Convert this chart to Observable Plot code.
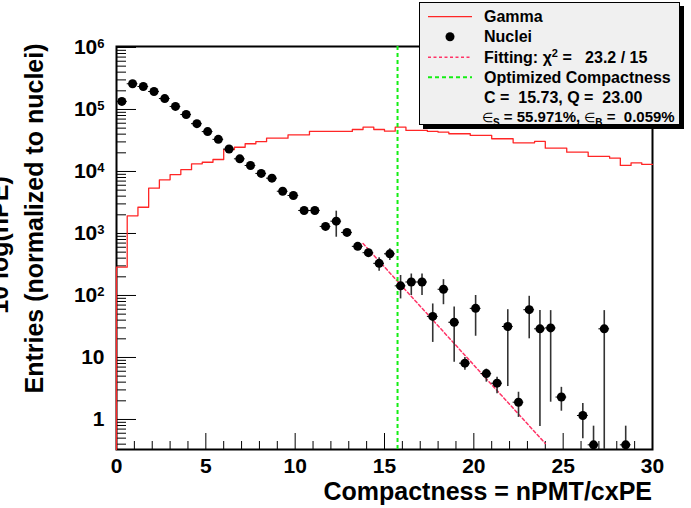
<!DOCTYPE html>
<html>
<head>
<meta charset="utf-8">
<script src="https://cdn.jsdelivr.net/npm/d3@7"></script>
<script src="https://cdn.jsdelivr.net/npm/@observablehq/plot@0.6"></script>
<style>
  body { margin: 0; background: #fff; }
  #wrap { position: relative; width: 691px; height: 508px; overflow: hidden; }
  #legend { position: absolute; left: 0; top: 0; pointer-events: none; }
  svg text { font-family: "Liberation Sans", Arial, Helvetica, sans-serif; font-weight: bold; }
</style>
</head>
<body>
<div id="wrap"></div>
<script>
// Histogram bins: 50 bins of width 0.6 over compactness 0..30
const binWidth = 0.6;
const binCenters = [0.3, 0.9, 1.5, 2.1, 2.7, 3.3, 3.9, 4.5, 5.1, 5.7,
  6.3, 6.9, 7.5, 8.1, 8.7, 9.3, 9.9, 10.5, 11.1, 11.7,
  12.3, 12.9, 13.5, 14.1, 14.7, 15.3, 15.9, 16.5, 17.1, 17.7,
  18.3, 18.9, 19.5, 20.1, 20.7, 21.3, 21.9, 22.5, 23.1, 23.7,
  24.3, 24.9, 25.5, 26.1, 26.7, 27.3, 27.9, 28.5, 29.1, 29.7];

// Gamma entries per bin (normalized to nuclei)
const gammaEntries = [286, 1930, 2650, 5370, 7340, 8920, 10700, 13300, 14100, 15600,
  22600, 24600, 28000, 30300, 34400, 34400, 39000, 39000, 44200, 44200,
  44200, 44200, 47500, 51800, 47500, 44700, 51800, 45900, 45900, 44200,
  43000, 40600, 40600, 38100, 38100, 33700, 33700, 29000, 29000, 30500,
  23800, 23800, 20500, 20500, 17500, 17500, 16400, 12500, 13800, 13000];

// Nuclei entries per bin (null = empty bin)
const nucleiEntries = [1.35e5, 2.6e5, 2.35e5, 1.95e5, 1.5e5, 1.12e5, 8.3e4, 5.9e4, 4.4e4, 3.3e4,
  2.3e4, 1.6e4, 1.25e4, 9300, 7800, 4800, 4100, 2350, 2350, 1300,
  1580, 1040, 620, 490, 330, 470, 143, 165, 165, 46,
  126, 37, 8.1, 62, 5.5, 3.85, 31.6, 1.9, 59, 29,
  30, 2.3, null, 1.16, 0.39, 29, null, 0.39, null, null];

// Error bar ends (upper / lower); 0 = reaches the bottom of the axis, null = too small to show
const nucleiErrHigh = [null, null, null, null, null, null, null, null, null, null,
  null, null, null, null, null, null, null, null, null, null,
  2290, null, null, null, 405, 565, 210, 222, 222, 73,
  180, 65, 10, 100, 6.5, 4.8, 59, 2.75, 97, 57,
  57, 3.3, null, 1.81, 0.78, 57, null, 0.78, null, null];
const nucleiErrLow = [null, null, null, null, null, null, null, null, null, null,
  null, null, null, null, null, null, null, null, null, null,
  870, null, null, null, 246, 366, 88, 100, 100, 17.5,
  71, 8.4, 6.2, 22, 4.0, 2.6, 3.4, 1.08, 20, 0.77,
  1.9, 1.36, null, 0.49, 0, 0, null, 0, null, null];

// Exponential fit over the tail (end points of the fitted curve)
const fitX = [13.8, 24.0];
const fitY = [690, 0.41];

// Optimized compactness cut
const cutC = 15.73;

// Axis ticks and labels
const xMajor = [0, 5, 10, 15, 20, 25, 30];
const xMinor = d3.range(1, 30).filter(v => v % 5 !== 0);
const yMajor = [1, 10, 100, 1e3, 1e4, 1e5, 1e6];
const yTickLabels = ["1", "10", "10^2", "10^3", "10^4", "10^5", "10^6"];
const yMinor = [0.1, 1, 10, 100, 1e3, 1e4, 1e5]
  .flatMap(dec => [2, 3, 4, 5, 6, 7, 8, 9].map(k => k * dec))
  .filter(v => v > 0.33 && v < 1e6);

const yDomain = [0.328, 1.037e6];

const W = 691, H = 508;
const mL = 116, mR = 39, mT = 46, mB = 59;
const plotW = W - mL - mR, plotH = H - mT - mB;

// Derived mark tables
const gammaPath = [{x: 0, y: yDomain[0]}]
  .concat(binCenters.map((c, i) => ({x: c - binWidth / 2, y: gammaEntries[i]})))
  .concat([{x: 30, y: gammaEntries[gammaEntries.length - 1]}]);

const nuclei = binCenters
  .map((c, i) => ({x: c, y: nucleiEntries[i], hi: nucleiErrHigh[i], lo: nucleiErrLow[i]}))
  .filter(d => d.y != null);
const errBars = nuclei.filter(d => d.hi != null)
  .map(d => ({x: d.x, hi: d.hi, lo: d.lo === 0 ? yDomain[0] : d.lo}));
const fit = fitX.map((x, i) => ({x, y: fitY[i]}));

const chart = Plot.plot({
  width: W, height: H,
  marginLeft: mL, marginRight: mR, marginTop: mT, marginBottom: mB,
  style: {fontSize: "21px", fontFamily: "'Liberation Sans', Arial, sans-serif", fontWeight: "bold", background: "white", color: "black", overflow: "visible"},
  x: {domain: [0, 30]},
  y: {type: "log", domain: yDomain},
  marks: [
    Plot.frame({stroke: "black", strokeWidth: 2}),
    Plot.axisX({ticks: xMajor, tickSize: 0, tickPadding: 9, tickFormat: d => String(d), label: null}),
    Plot.axisY({ticks: yMajor, tickSize: 0, tickPadding: 12, label: null,
      tickFormat: d => yTickLabels[yMajor.indexOf(d)]}),
    Plot.tickY(yMajor, {y: d => d, insetRight: plotW - 20, stroke: "black", strokeWidth: 1}),
    Plot.tickY(yMinor, {y: d => d, insetRight: plotW - 10, stroke: "black", strokeWidth: 1}),
    Plot.tickX(xMajor, {x: d => d, insetTop: plotH - 16, stroke: "black", strokeWidth: 1}),
    Plot.tickX(xMinor, {x: d => d, insetTop: plotH - 8, stroke: "black", strokeWidth: 1}),
    Plot.line(gammaPath, {x: "x", y: "y", curve: "step-after", stroke: "#ff2626", strokeWidth: 1.3}),
    Plot.line(fit, {x: "x", y: "y", stroke: "#ff3366", strokeWidth: 1.5, strokeDasharray: "3,2.5"}),
    Plot.ruleX([cutC], {x: d => d, stroke: "#14ee14", strokeWidth: 2, strokeDasharray: "4,3"}),
    Plot.ruleX(errBars, {x: "x", y1: "lo", y2: "hi", stroke: "#333", strokeWidth: 1.6}),
    Plot.ruleY(nuclei, {y: "y", x1: d => d.x - binWidth / 2, x2: d => d.x + binWidth / 2, stroke: "black", strokeWidth: 1}),
    Plot.dot(nuclei, {x: "x", y: "y", r: 4.5, fill: "black", stroke: "none"})
  ]
});

document.getElementById("wrap").appendChild(chart);

// Superscript exponents on the log-axis labels
const NS = "http://www.w3.org/2000/svg";
chart.querySelectorAll('g[aria-label="y-axis tick label"] text').forEach(t => {
  const m = t.textContent.match(/^10\^(\d+)$/);
  if (m) {
    t.textContent = "10";
    const sup = document.createElementNS(NS, "tspan");
    sup.setAttribute("dy", "-0.5em");
    sup.setAttribute("font-size", "13px");
    sup.textContent = m[1];
    t.appendChild(sup);
  }
});

// Axis titles
const svg = d3.select(chart);
svg.append("text")
  .attr("x", mL + plotW).attr("y", 500)
  .attr("text-anchor", "end").attr("font-size", "25px")
  .text("Compactness = nPMT/cxPE");
svg.append("text")
  .attr("transform", "translate(42.5,218.5) rotate(-90)")
  .attr("text-anchor", "middle").attr("font-size", "25px")
  .text("Entries (normalized to nuclei)");
svg.append("text")
  .attr("transform", "translate(8,245) rotate(-90)")
  .attr("text-anchor", "middle").attr("font-size", "25px")
  .text("10 log(nPE)");

// Legend box
const leg = d3.select("#wrap").append("svg")
  .attr("id", "legend").attr("width", W).attr("height", 135);
leg.append("rect").attr("x", 423).attr("y", 6).attr("width", 261).attr("height", 123).attr("fill", "black");
leg.append("rect").attr("x", 419.5).attr("y", 2.5).attr("width", 260).attr("height", 122)
  .attr("fill", "#f0f0f0").attr("stroke", "black").attr("stroke-width", 1);

const tx = 484;
const rows = [16.7, 36.7, 57.3, 77.3, 97.3, 116.7];
leg.append("line").attr("x1", 428).attr("x2", 472).attr("y1", rows[0]).attr("y2", rows[0])
  .attr("stroke", "#ff2626").attr("stroke-width", 1.3);
leg.append("circle").attr("cx", 450).attr("cy", rows[1]).attr("r", 4.5).attr("fill", "black");
leg.append("line").attr("x1", 428).attr("x2", 472).attr("y1", rows[2]).attr("y2", rows[2])
  .attr("stroke", "#ff3366").attr("stroke-width", 1.5).attr("stroke-dasharray", "3,2.5");
leg.append("line").attr("x1", 428).attr("x2", 472).attr("y1", rows[3]).attr("y2", rows[3])
  .attr("stroke", "#14ee14").attr("stroke-width", 2).attr("stroke-dasharray", "4,3");

function legText(row) {
  return leg.append("text").attr("x", tx).attr("y", rows[row] + 5.7)
    .attr("font-size", "16px").attr("xml:space", "preserve").style("white-space", "pre");
}
legText(0).text("Gamma");
legText(1).text("Nuclei");
const t2 = legText(2);
t2.append("tspan").text("Fitting: \u03c7");
t2.append("tspan").attr("dy", "-6").attr("font-size", "11px").text("2");
t2.append("tspan").attr("dy", "6").text(" =   23.2 / 15");
legText(3).text("Optimized Compactness");
legText(4).text("C =  15.73, Q =  23.00");
const t5 = legText(5).attr("x", tx - 2).attr("font-size", "15px");
t5.append("tspan").attr("font-weight", "normal").attr("font-size", "13px").text("\u2208");
t5.append("tspan").attr("dy", "4").attr("font-size", "10px").text("S");
t5.append("tspan").attr("dy", "-4").text(" = 55.971%, ");
t5.append("tspan").attr("font-weight", "normal").attr("font-size", "13px").text("\u2208");
t5.append("tspan").attr("dy", "4").attr("font-size", "10px").text("B");
t5.append("tspan").attr("dy", "-4").text(" =  0.059%");
// keep the efficiency line inside the box
const w5 = t5.node().getComputedTextLength();
if (w5 > 195) t5.attr("textLength", 195).attr("lengthAdjust", "spacingAndGlyphs");
</script>
</body>
</html>
